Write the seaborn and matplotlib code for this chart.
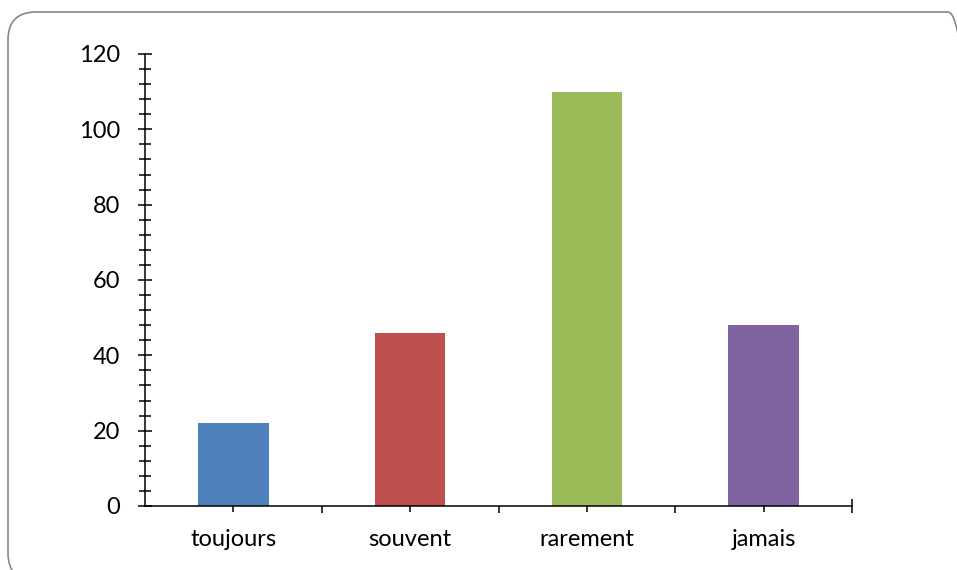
import matplotlib
matplotlib.use("Agg")
import matplotlib.pyplot as plt
from matplotlib.patches import FancyBboxPatch
from matplotlib.transforms import IdentityTransform, blended_transform_factory
from matplotlib.ticker import MultipleLocator, FixedLocator
import seaborn as sns
import pandas as pd

# Survey answers and their counts
categories = ["toujours", "souvent", "rarement", "jamais"]
counts = [22, 46, 110, 48]
bar_colors = ["#4F81BD", "#C0504D", "#9BBB59", "#8064A2"]

sns.set_theme(style="white")
plt.rcParams["font.family"] = ["Lato", "DejaVu Sans"]

W, H = 957, 570
fig = plt.figure(figsize=(W / 100, H / 100), dpi=100)
ax = fig.add_axes([145 / W, 1 - 506 / H, (852 - 145) / W, (506 - 54) / H])

df = pd.DataFrame({"categorie": categories, "nombre": counts})
sns.barplot(data=df, x="categorie", y="nombre", hue="categorie",
            palette=bar_colors, width=0.4, legend=False, ax=ax,
            saturation=1, edgecolor="none")

ax.set_xlim(-0.5, len(categories) - 0.5)
ax.set_ylim(0, 120)
ax.set_xlabel("")
ax.set_ylabel("")

for side in ("top", "right"):
    ax.spines[side].set_visible(False)
for side in ("left", "bottom"):
    ax.spines[side].set_color("black")
    ax.spines[side].set_linewidth(1.1)

# y axis: major every 20, minor every 4, crossing the axis line
ax.yaxis.set_major_locator(MultipleLocator(20))
ax.yaxis.set_minor_locator(MultipleLocator(4))
ax.tick_params(axis="y", which="major", direction="inout", length=10, width=1.1,
               color="black", labelsize=17, labelcolor="black", pad=13, left=True)
ax.tick_params(axis="y", which="minor", direction="inout", length=8, width=1.1,
               color="black", left=True)

# x axis: centre ticks cross the axis, boundary ticks point down
ax.xaxis.set_minor_locator(FixedLocator([0.5, 1.5, 2.5, 3.5]))
ax.tick_params(axis="x", which="major", direction="inout", length=9, width=1.1,
               color="black", labelsize=17, labelcolor="black", pad=12, bottom=True)
ax.tick_params(axis="x", which="minor", direction="out", length=5, width=1.1,
               color="black", bottom=True)
end_tr = blended_transform_factory(ax.transData, ax.transAxes)
ax.plot([3.5, 3.5], [0, 0.016], color="black", lw=1.1, transform=end_tr,
        clip_on=False, solid_capstyle="butt")

# rounded chart-area border
border = FancyBboxPatch((8, -11), 968, H - 12 + 11,
                        boxstyle="round,pad=0,rounding_size=28",
                        transform=IdentityTransform(), facecolor="none",
                        edgecolor="#888888", linewidth=1.2)
fig.add_artist(border)

fig.savefig("out.png", dpi=100)
